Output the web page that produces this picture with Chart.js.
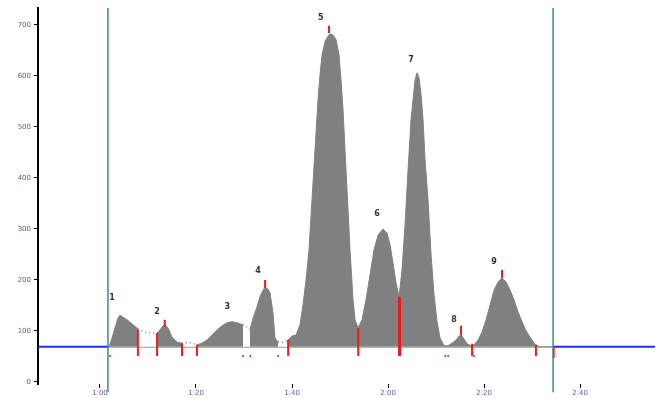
<!DOCTYPE html>
<html>
<head>
<meta charset="utf-8">
<script src="https://cdn.jsdelivr.net/npm/chart.js@4/dist/chart.umd.min.js"></script>
<style>
  body { margin: 0; background: #fff; }
  #wrap { width: 660px; height: 399px; }
</style>
</head>
<body>
<div id="wrap"><canvas id="chart"></canvas></div>
<script>
// migration time (s) and detector signal
const traceX = [47.1, 61.67, 62.08, 62.71, 63.13, 63.75, 64.17, 64.79, 65.63, 66.67, 67.71, 67.92,
  69.38, 70.42, 71.46, 71.88,
  72.5, 73.13, 73.54, 74.17, 75.0, 76.04, 77.08,
  78.13, 79.17, 80.21,
  81.25, 82.29, 83.33, 84.38, 85.42, 86.46, 87.5, 88.54, 89.79,
  90.63, 91.25,
  91.88, 92.71, 93.33, 93.75, 94.38, 95.0, 95.42, 96.04, 96.46, 97.08,
  98.13, 99.17,
  100.0, 100.83, 101.67, 102.29, 102.92, 103.54, 104.17, 104.79, 105.42, 105.83, 106.25, 106.88,
  107.5, 107.92, 108.54, 109.17, 109.79, 110.21, 110.63, 111.04, 111.67, 112.08, 112.71, 113.13, 113.75,
  114.58, 115.42, 116.25, 117.08, 117.92, 118.96, 119.79, 120.42, 121.04, 121.67, 122.29,
  122.92, 123.54, 124.17, 124.79, 125.21, 125.63, 126.04, 126.46, 126.88, 127.29, 127.71, 128.33,
  128.96, 129.58, 130.21, 130.83, 131.67, 132.5,
  133.33, 134.17, 134.79, 135.21, 135.83, 136.46, 137.29, 137.92,
  138.75, 139.58, 140.42, 141.25, 142.08, 142.92, 143.75, 144.58, 145.42, 146.25, 147.08, 147.92,
  148.75, 149.58, 150.63, 151.67, 154.38, 175.6];
const traceY = [69, 69, 73, 92, 106, 125, 131, 127, 122, 114, 106, 104,
  98, 96, 96, 96,
  102, 110, 112, 106, 88, 78, 76,
  78, 76, 73,
  76, 82, 92, 102, 110, 116, 118, 116, 112,
  108, 102,
  125, 147, 167, 176, 186, 182, 175, 135, 86, 78,
  78, 82,
  90, 92, 112, 151, 200, 259, 357, 455, 553, 602, 641, 667,
  678, 682, 680, 671, 641, 592, 533, 455, 337, 259, 161, 122, 106,
  122, 161, 210, 259, 288, 300, 292, 269, 233, 194, 167,
  220, 308, 416, 514, 553, 592, 606, 596, 563, 514, 435, 357,
  249, 171, 118, 86, 71, 71,
  76, 82, 90, 92, 84, 75, 71, 73,
  82, 98, 122, 151, 180, 196, 204, 196, 180, 161, 137, 118,
  100, 88, 73, 69, 69, 69];

const baseline = 69;
const windowStart = 61.67;
const windowEnd = 154.38;

// excluded stretches (drawn dotted, no fill)
const gapStart = [67.92, 77.08, 89.79, 97.08];
const gapEnd = [71.88, 80.21, 91.25, 99.17];

// red integration marks
const markX = [67.9, 71.9, 73.5, 77.1, 80.2, 94.4, 99.2, 107.7, 113.8, 122.4, 135.2, 137.5, 143.75, 150.8, 154.5];
const markTop = [102, 96, 122, 76, 73, 200, 82, 698, 106, 167, 110, 75, 220, 73, 69];
const markBottom = [51, 51, 108, 51, 51, 184, 51, 684, 51, 51, 92, 51, 204, 51, 47];
const markWidth = [2, 2, 2, 2, 2, 2, 2, 2, 2, 3, 2, 2, 2, 2, 2];
const dotX = [62.1, 89.8, 91.3, 97.1, 131.9, 132.5, 137.9];

const peakNames = ['1', '2', '3', '4', '5', '6', '7', '8', '9'];
const peakX = [62.5, 71.9, 86.5, 92.9, 106.0, 117.7, 124.8, 133.75, 142.1];
const peakY = [165, 137, 147, 218, 714, 329, 631, 122, 235];

const xTicks = [60, 80, 100, 120, 140, 160];
const xTickLabels = ['1:00', '1:20', '1:40', '2:00', '2:20', '2:40'];
const yTicks = [0, 100, 200, 300, 400, 500, 600, 700];

const GRAY = '#808080';
const BLUE = '#1f2cf0';
const TEAL = '#3b8c86';
const RED = '#f01818';

function inGap(a, b) {
    return gapStart.some((s, i) => a >= s - 0.01 && b <= gapEnd[i] + 0.01);
}
function outside(a, b) {
    return b <= windowStart + 0.01 || a >= windowEnd - 0.01;
}

const trace = traceX.map((x, i) => ({ x: x, y: traceY[i] }));

const marks = [];
markX.forEach((x, i) => {
    marks.push({ x: x, y: markTop[i] });
    marks.push({ x: x, y: markBottom[i] });
    marks.push({ x: x, y: null });
});

const peakLabels = {
    id: 'peakLabels',
    afterDatasetsDraw(chart) {
        const { ctx, scales: { x, y } } = chart;
        ctx.save();
        ctx.font = 'bold 8px "DejaVu Sans", sans-serif';
        ctx.fillStyle = '#333';
        ctx.textAlign = 'center';
        ctx.textBaseline = 'middle';
        peakNames.forEach((t, i) => {
            ctx.fillText(t, x.getPixelForValue(peakX[i]), y.getPixelForValue(peakY[i]));
        });
        ctx.restore();
    }
};

new Chart(document.getElementById('chart'), {
    type: 'line',
    data: {
        datasets: [
            {
                data: trace,
                order: 5,
                fill: { value: baseline },
                backgroundColor: GRAY,
                borderColor: GRAY,
                borderWidth: 1,
                pointRadius: 0,
                tension: 0,
                segment: {
                    backgroundColor: ctx => inGap(ctx.p0.parsed.x, ctx.p1.parsed.x) || outside(ctx.p0.parsed.x, ctx.p1.parsed.x) ? 'rgba(0,0,0,0)' : GRAY,
                    borderColor: ctx => outside(ctx.p0.parsed.x, ctx.p1.parsed.x) ? BLUE : (inGap(ctx.p0.parsed.x, ctx.p1.parsed.x) ? BLUE : GRAY),
                    borderDash: ctx => inGap(ctx.p0.parsed.x, ctx.p1.parsed.x) ? [1, 3] : undefined,
                    borderWidth: ctx => outside(ctx.p0.parsed.x, ctx.p1.parsed.x) ? 2 : 1
                }
            },
            {
                data: [{ x: windowStart, y: baseline - 1 }, { x: windowEnd, y: baseline - 1 }],
                order: 4,
                borderColor: '#7aa8a4',
                borderWidth: 1,
                pointRadius: 0
            },
            {
                data: marks,
                order: 2,
                borderColor: RED,
                borderWidth: 2,
                pointRadius: 0,
                spanGaps: false,
                segment: {
                    borderWidth: ctx => markWidth[Math.floor(ctx.p0DataIndex / 3)]
                }
            },
            {
                data: dotX.map(x => ({ x: x, y: 51 })),
                order: 2,
                showLine: false,
                pointRadius: 1,
                pointBackgroundColor: RED,
                pointBorderWidth: 0
            },
            {
                data: [{ x: windowStart, y: -20 }, { x: windowStart, y: 733 }],
                order: 1,
                clip: false,
                borderColor: TEAL,
                borderWidth: 1.5,
                pointRadius: 0
            },
            {
                data: [{ x: windowEnd, y: -20 }, { x: windowEnd, y: 733 }],
                order: 1,
                clip: false,
                borderColor: TEAL,
                borderWidth: 1.5,
                pointRadius: 0
            }
        ]
    },
    options: {
        responsive: true,
        maintainAspectRatio: false,
        animation: false,
        events: [],
        layout: { padding: { top: 8, right: 5, left: 0, bottom: 0 } },
        plugins: {
            legend: { display: false },
            tooltip: { enabled: false }
        },
        scales: {
            x: {
                type: 'linear',
                min: 47.1,
                max: 175.6,
                afterBuildTicks: scale => { scale.ticks = xTicks.map(v => ({ value: v })); },
                afterFit: scale => { scale.height = 15; },
                border: { display: false },
                grid: { drawOnChartArea: false, tickLength: 4, color: '#000' },
                ticks: {
                    callback: (v, i) => xTickLabels[i],
                    font: { size: 7, family: 'DejaVu Sans' },
                    color: '#6a5a9a',
                    padding: 1,
                    maxRotation: 0
                }
            },
            y: {
                min: -4,
                max: 733,
                afterBuildTicks: scale => { scale.ticks = yTicks.map(v => ({ value: v })); },
                afterFit: scale => { scale.width = 38; },
                border: { color: '#000', width: 2 },
                grid: { drawOnChartArea: false, tickLength: 4, color: '#000' },
                ticks: {
                    font: { size: 7, family: 'DejaVu Sans' },
                    color: '#5a6080',
                    padding: 3
                }
            }
        }
    },
    plugins: [peakLabels]
});
</script>
</body>
</html>
